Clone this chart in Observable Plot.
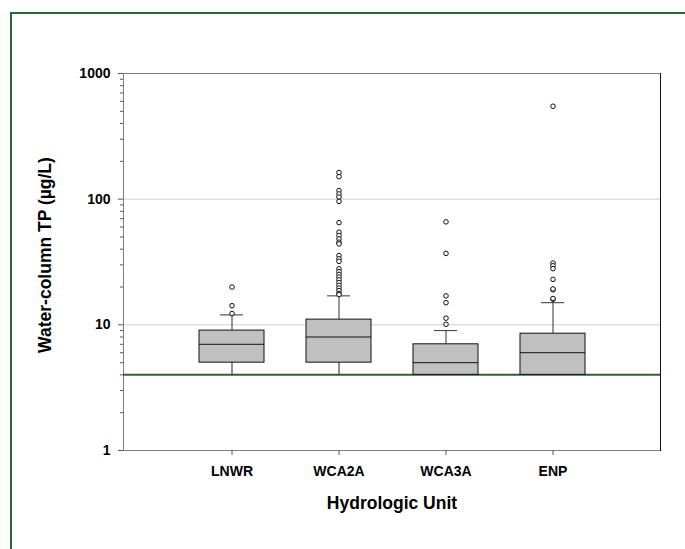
<!DOCTYPE html>
<html>
<head>
<meta charset="utf-8">
<script src="https://cdn.jsdelivr.net/npm/d3@7"></script>
<script src="https://cdn.jsdelivr.net/npm/@observablehq/plot@0.6"></script>
<style>
  html, body { margin: 0; padding: 0; background: #fff; }
  #wrap { position: relative; width: 685px; height: 549px; overflow: hidden; }
  #border { position: absolute; left: 10px; top: 12px; width: 700px; height: 600px;
            border-left: 2px solid #2c6532; border-top: 2px solid #2c6532; box-sizing: border-box; }
  svg { font-family: "Liberation Sans", Arial, sans-serif; }
</style>
</head>
<body>
<div id="wrap"><div id="border"></div></div>
<script>
// ---- data ----
const units = ["LNWR", "WCA2A", "WCA3A", "ENP"];
const whiskerLow = [4, 4, 4, 4];
const q1 = [5, 5, 4, 4];
const medians = [7, 8, 5, 6];
const q3 = [9, 11, 7, 8.5];
const whiskerHigh = [12, 17, 9, 15];
const outliersLNWR = [12.3, 14.2, 20];
const outliersWCA2A = [163, 151, 117, 110, 104, 96, 65, 54.6, 51.4, 48.3, 45.4, 44, 35.6, 33.5, 32,
  27.9, 26.5, 25.2, 24, 22.8, 21.7, 20.6, 19.6, 18.7, 17.8, 17.4];
const outliersWCA3A = [66, 37, 17, 15, 11.3, 10.1];
const outliersENP = [549, 31, 29.5, 28, 23, 19, 19.3, 16, 16.2];
const yTicks = [1, 10, 100, 1000];
const yMinorTicks = [2,3,4,5,6,7,8,9,20,30,40,50,60,70,80,90,200,300,400,500,600,700,800,900];
const gridValues = [10, 100];
const detectionLimit = 4;
const yLabel = "Water-column TP (µg/L)";
const xLabel = "Hydrologic Unit";

// ---- build tables ----
const boxes = units.map((u, i) => ({
  unit: u, lo: whiskerLow[i], q1: q1[i], med: medians[i], q3: q3[i], hi: whiskerHigh[i]
}));
const outlierLists = [outliersLNWR, outliersWCA2A, outliersWCA3A, outliersENP];
const outliers = units.flatMap((u, i) => outlierLists[i].map(v => ({unit: u, v})));

const green = "#2c6532";
const font = {fontFamily: "Liberation Sans, Arial, sans-serif", fontWeight: "bold"};

const chart = Plot.plot({
  width: 685,
  height: 549,
  marginLeft: 123,
  marginRight: 25,
  marginTop: 73,
  marginBottom: 99,
  style: {fontFamily: "Liberation Sans, Arial, sans-serif", background: "transparent"},
  x: {type: "band", domain: units, paddingInner: 0.395, paddingOuter: 0.6975, label: null},
  y: {type: "log", domain: [1, 1000], label: null},
  marks: [
    Plot.gridY(gridValues, {stroke: "#d0d0d0", strokeOpacity: 1}),
    Plot.frame({stroke: "#808080"}),
    Plot.frame({anchor: "right", stroke: "#111"}),
    Plot.ruleY([detectionLimit], {stroke: green, strokeWidth: 2}),
    Plot.ruleX(boxes, {x: "unit", y1: "lo", y2: "q1", stroke: "#222"}),
    Plot.ruleX(boxes, {x: "unit", y1: "q3", y2: "hi", stroke: "#333"}),
    Plot.barY(boxes, {x: "unit", y1: "q1", y2: "q3", fill: "#c0c0c0", stroke: "#111", strokeWidth: 1}),
    Plot.tickY(boxes, {x: "unit", y: "med", stroke: "#111"}),
    Plot.tickY(boxes, {x: "unit", y: "hi", stroke: "#333", insetLeft: 21, insetRight: 21}),
    Plot.dot(outliers, {x: "unit", y: "v", r: 2.3, stroke: "#111", fill: "white", strokeWidth: 1}),
    Plot.axisY({ticks: yTicks, tickFormat: d => String(d), tickSize: 5, tickPadding: 8,
      fontSize: 14, fontWeight: "bold", stroke: "#555", fill: "#000", label: null}),
    Plot.axisY({ticks: yMinorTicks, tickFormat: () => "", tickSize: 3, stroke: "#555", label: null}),
    Plot.axisX({tickSize: 5, tickPadding: 11, fontSize: 14, fontWeight: "bold",
      stroke: "#555", fill: "#000", label: null}),
    Plot.text([yLabel], {text: d => d, frameAnchor: "left", rotate: -90, dx: -78, dy: -7,
      textAnchor: "middle", lineAnchor: "middle", fontSize: 17.5, ...font, fill: "#000"}),
    Plot.text([xLabel], {text: d => d, frameAnchor: "bottom", dy: 53,
      textAnchor: "middle", lineAnchor: "middle", fontSize: 17.5, ...font, fill: "#000"})
  ]
});
document.getElementById("wrap").prepend(chart);
chart.style.position = "absolute";
chart.style.left = "0px";
chart.style.top = "0px";
</script>
</body>
</html>
